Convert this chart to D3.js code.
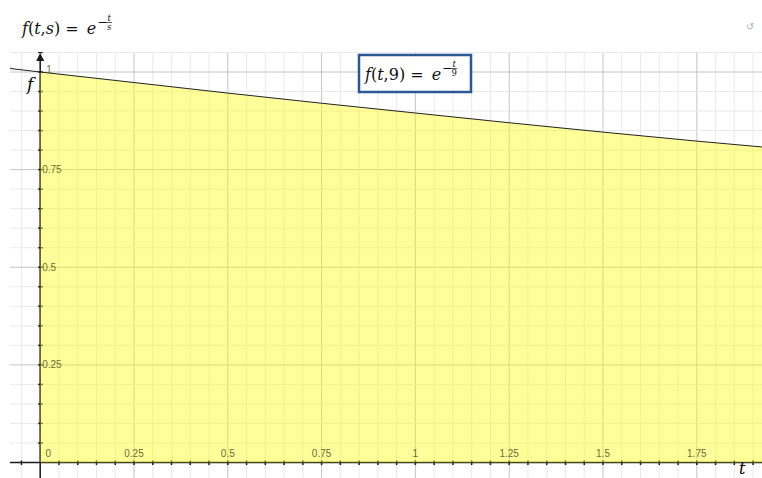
<!DOCTYPE html>
<html>
<head>
<meta charset="utf-8">
<script src="https://cdn.jsdelivr.net/npm/d3@7"></script>
<style>
  body { margin: 0; background: #fff; }
  svg { display: block; }
  .math { font-family: "DejaVu Serif", "Liberation Serif", serif; }
</style>
</head>
<body>
<div id="chart-area"></div>
<script>
// values
var tValues = [-0.107, 0, 0.25, 0.5, 0.75, 1, 1.25, 1.5, 1.75, 1.924];
var fValues = [1.012, 1, 0.973, 0.946, 0.920, 0.895, 0.870, 0.846, 0.823, 0.808];
var xTicks = [0, 0.25, 0.5, 0.75, 1, 1.25, 1.5, 1.75];
var xTickLabels = ["0", "0.25", "0.5", "0.75", "1", "1.25", "1.5", "1.75"];
var yTicks = [0.25, 0.5, 0.75, 1];
var yTickLabels = ["0.25", "0.5", "0.75", "1"];

var W = 762, H = 478;
var plot = { left: 10, top: 52, right: 762, bottom: 478 };

var svg = d3.select("#chart-area")
    .append("svg")
    .attr("width", W)
    .attr("height", H);

var x = d3.scaleLinear().domain([0, 1]).range([40.2, 415.4]);
var y = d3.scaleLinear().domain([0, 1]).range([462.5, 72]);

svg.append("clipPath").attr("id", "plotclip")
    .append("rect")
    .attr("x", plot.left).attr("y", plot.top)
    .attr("width", plot.right - plot.left).attr("height", plot.bottom - plot.top);

var g = svg.append("g").attr("clip-path", "url(#plotclip)");

// grid: minor every 0.05, major every 0.25
var xGrid = d3.range(-4, 40).map(i => i * 0.05);
var yGrid = d3.range(-2, 23).map(i => i * 0.05);
function isMajor(v) { return Math.abs(v / 0.25 - Math.round(v / 0.25)) < 1e-6; }

g.selectAll(".vgrid").data(xGrid).enter().append("line")
    .attr("x1", d => x(d)).attr("x2", d => x(d))
    .attr("y1", plot.top).attr("y2", plot.bottom)
    .attr("stroke", d => isMajor(d) ? "#c4c4c4" : "#e9e9e9")
    .attr("stroke-width", 1);

g.selectAll(".hgrid").data(yGrid).enter().append("line")
    .attr("y1", d => y(d)).attr("y2", d => y(d))
    .attr("x1", plot.left).attr("x2", plot.right)
    .attr("stroke", d => isMajor(d) ? "#c4c4c4" : "#e9e9e9")
    .attr("stroke-width", 1);

// filled area under the curve from t = 0
var pts = tValues.map((t, i) => ({ t: t, f: fValues[i] }));
var areaPts = pts.filter(d => d.t >= 0);
var area = d3.area()
    .x(d => x(d.t))
    .y0(y(0))
    .y1(d => y(d.f));

// axes
var axisColor = "#1a1a1a";
g.append("line")
    .attr("x1", plot.left).attr("x2", plot.right)
    .attr("y1", y(0)).attr("y2", y(0))
    .attr("stroke", axisColor).attr("stroke-width", 1.5);
g.append("line")
    .attr("x1", x(0)).attr("x2", x(0))
    .attr("y1", plot.bottom).attr("y2", plot.top + 4)
    .attr("stroke", axisColor).attr("stroke-width", 1.5);
g.append("path")
    .attr("d", "M" + (x(0) - 4) + "," + (plot.top + 9) + " L" + x(0) + "," + (plot.top + 1) + " L" + (x(0) + 4) + "," + (plot.top + 9) + " Z")
    .attr("fill", axisColor);

// small tick marks every 0.05
g.selectAll(".xt").data(xGrid.filter(d => Math.abs(d) > 1e-6)).enter().append("line")
    .attr("x1", d => x(d)).attr("x2", d => x(d))
    .attr("y1", y(0) - 2).attr("y2", y(0) + 2.5)
    .attr("stroke", axisColor).attr("stroke-width", 1.5);
g.selectAll(".yt").data(yGrid.filter(d => Math.abs(d) > 1e-6)).enter().append("line")
    .attr("y1", d => y(d)).attr("y2", d => y(d))
    .attr("x1", x(0) - 2).attr("x2", x(0) + 2.5)
    .attr("stroke", axisColor).attr("stroke-width", 1.5);

g.append("path")
    .datum(areaPts)
    .attr("d", area)
    .attr("fill", "#ffff00")
    .attr("fill-opacity", 0.4);

// curve
var line = d3.line().x(d => x(d.t)).y(d => y(d.f));
g.append("path")
    .datum(pts)
    .attr("d", line)
    .attr("fill", "none")
    .attr("stroke", "#222")
    .attr("stroke-width", 1);

// tick labels
var labelColor = "#6c6c38";
g.selectAll(".xl").data(xTicks).enter().append("text")
    .attr("x", (d, i) => i === 0 ? x(d) + 8 : x(d))
    .attr("y", y(0) - 6)
    .attr("text-anchor", "middle")
    .attr("font-family", "Liberation Sans, Arial, sans-serif")
    .attr("font-size", 10)
    .attr("fill", labelColor)
    .text((d, i) => xTickLabels[i]);

g.selectAll(".yl").data(yTicks.filter(d => d < 1)).enter().append("text")
    .attr("x", x(0) + 2)
    .attr("y", d => y(d) + 3.5)
    .attr("text-anchor", "start")
    .attr("font-family", "Liberation Sans, Arial, sans-serif")
    .attr("font-size", 10)
    .attr("fill", labelColor)
    .text((d, i) => yTickLabels[i]);
g.append("text")
    .attr("x", x(0) + 6).attr("y", y(1) + 1)
    .attr("font-family", "Liberation Sans, Arial, sans-serif")
    .attr("font-size", 10)
    .attr("fill", labelColor)
    .text(yTickLabels[3]);

// axis names
svg.append("text").attr("class", "math")
    .attr("x", 27).attr("y", 90)
    .attr("font-size", 17).attr("font-style", "italic")
    .text("f");
svg.append("text").attr("class", "math")
    .attr("x", 739).attr("y", 474)
    .attr("font-size", 16).attr("font-style", "italic")
    .text("t");

// formula helper: f(a,b) = e^(-t/b)
function formula(parent, x0, yb, arg) {
    var t = parent.append("text").attr("class", "math")
        .attr("x", x0).attr("y", yb)
        .attr("font-size", 16).attr("fill", "#111");
    t.append("tspan").attr("font-style", "italic").text("f");
    t.append("tspan").text("(");
    t.append("tspan").attr("font-style", "italic").text("t");
    t.append("tspan").text(",");
    t.append("tspan").attr("font-style", arg === "s" ? "italic" : "normal").text(arg);
    t.append("tspan").text(") =\u2002");
    t.append("tspan").attr("font-style", "italic").text("e");
    var bb = t.node().getBBox();
    var ex = bb.x + bb.width + 1;
    parent.append("text").attr("class", "math")
        .attr("x", ex).attr("y", yb - 8)
        .attr("font-size", 12).attr("fill", "#111")
        .text("\u2212");
    var fx = ex + 12;
    parent.append("text").attr("class", "math")
        .attr("x", fx).attr("y", yb - 13)
        .attr("font-size", 8.5).attr("font-style", "italic")
        .attr("text-anchor", "middle").attr("fill", "#111")
        .text("t");
    parent.append("line")
        .attr("x1", fx - 3).attr("x2", fx + 3)
        .attr("y1", yb - 11.5).attr("y2", yb - 11.5)
        .attr("stroke", "#111").attr("stroke-width", 0.7);
    parent.append("text").attr("class", "math")
        .attr("x", fx).attr("y", yb - 4)
        .attr("font-size", 8.5).attr("font-style", arg === "s" ? "italic" : "normal")
        .attr("text-anchor", "middle").attr("fill", "#111")
        .text(arg);
}

formula(svg, 22, 34, "s");

// labelled box
svg.append("rect")
    .attr("x", 359).attr("y", 55)
    .attr("width", 112).attr("height", 37)
    .attr("fill", "#fff")
    .attr("stroke", "#2b5797")
    .attr("stroke-width", 2.5);
formula(svg, 365, 80, "9");

// small icon top right
svg.append("text")
    .attr("x", 750).attr("y", 30)
    .attr("text-anchor", "middle")
    .attr("font-family", "DejaVu Sans, sans-serif")
    .attr("font-size", 10)
    .attr("fill", "#b0b0b0")
    .text("\u21ba");
</script>
</body>
</html>
